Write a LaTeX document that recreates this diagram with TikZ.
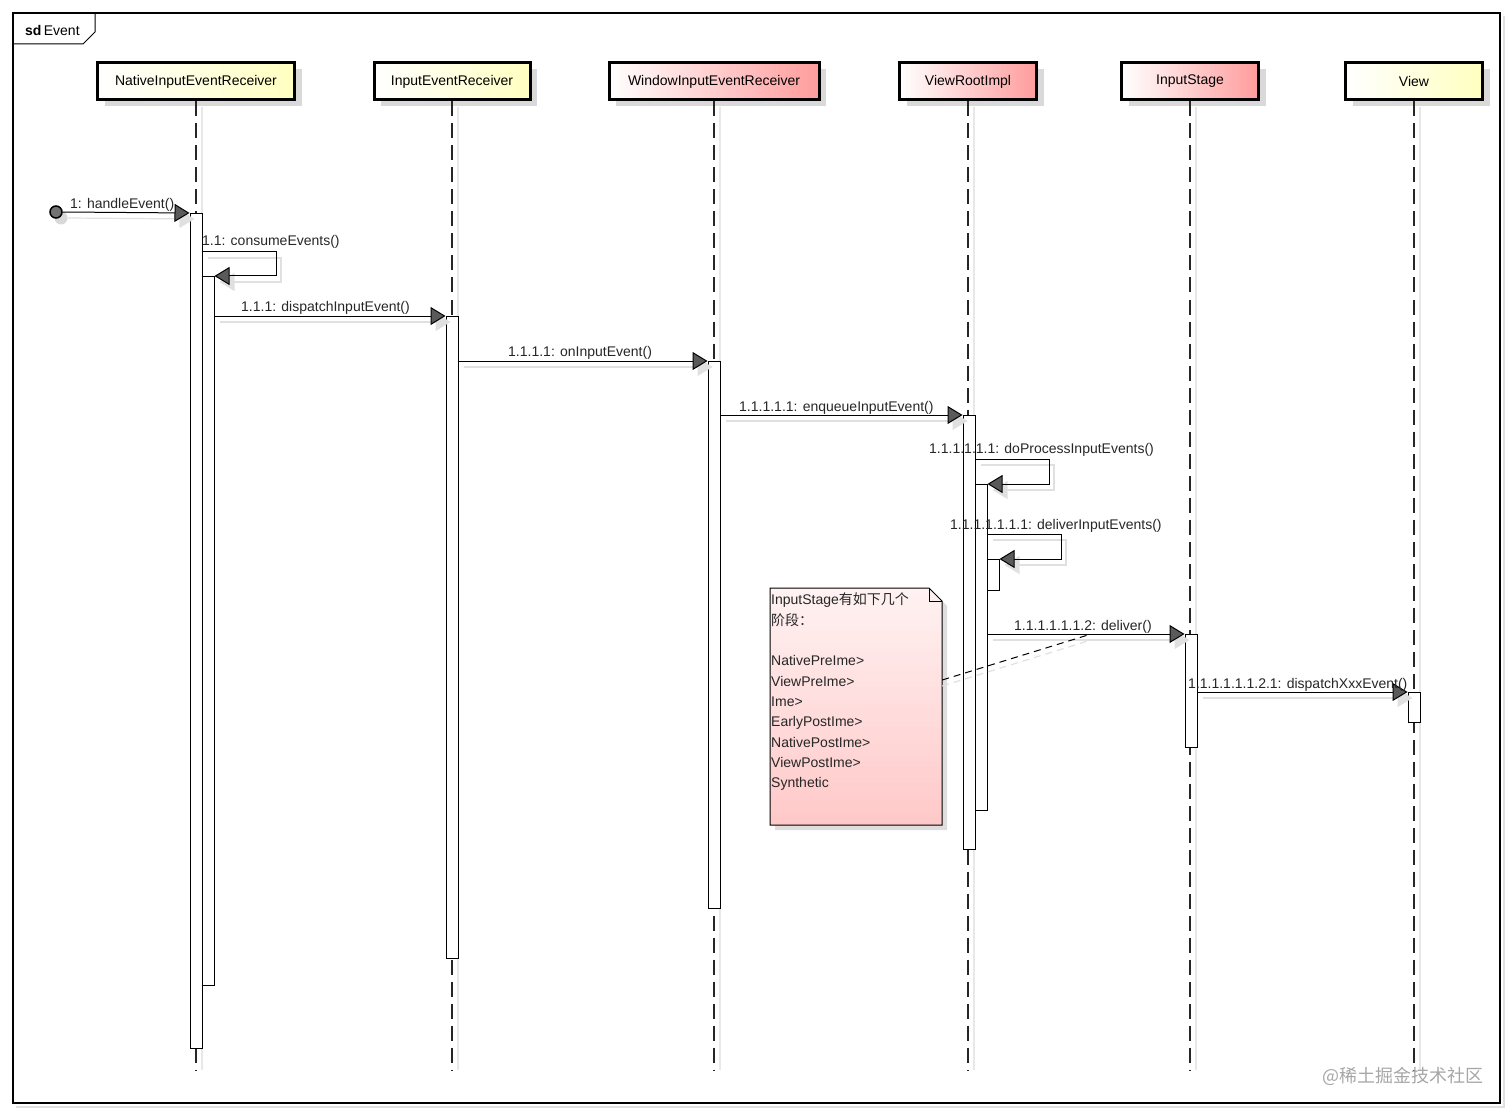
\documentclass[tikz,border=0pt]{standalone}
\usepackage{fontspec}
\setmainfont{Liberation Sans}
\newfontfamily\cjk{Noto Sans CJK SC}
\usetikzlibrary{arrows.meta,shadows}
\definecolor{yel}{HTML}{FFFFC0}
\definecolor{pnk}{HTML}{FF9C9C}
\definecolor{arrowgray}{HTML}{5A5A5A}
\definecolor{notetop}{HTML}{FFF2F2}
\definecolor{notebot}{HTML}{FFC8C8}
\begin{document}
\begin{tikzpicture}[x=1pt,y=-1pt,
  font=\fontsize{14}{16}\selectfont,
  head/.style={draw=black, line width=3pt, minimum height=37pt, inner sep=0pt,
    left color=white, drop shadow={shadow xshift=7pt,shadow yshift=-6pt,fill=black!15,opacity=1}},
  yhead/.style={head, right color=yel},
  phead/.style={head, right color=pnk},
  lifeline/.style={draw=black!85, line width=1.3pt, dash pattern=on 15pt off 7pt},
  lifeshadow/.style={draw=black!9, line width=1.6pt},
  actbar/.style={draw=black, line width=1pt, fill=white, minimum width=12pt, inner sep=0pt, anchor=north},
  msg/.style={draw=black, line width=1pt, -{Triangle[length=15pt,width=18pt,fill=arrowgray]}},
  msgshadow/.style={draw=black!12, line width=1.2pt, -{Triangle[length=15pt,width=18pt,fill=black!12]},
    transform canvas={xshift=5pt,yshift=-6pt}},
  lbl/.style={anchor=base west, inner sep=0pt, text=black!85},
  notelink/.style={draw=black, line width=1pt, dash pattern=on 7pt off 5pt}
]
\useasboundingbox (0,0) rectangle (1512,1115);
% frame
\draw[black!12, line width=2pt] (16,1107) -- (1504,1107) -- (1504,16);
\draw[line width=1.2pt] (13,13) rectangle (1500,1103);
\draw[line width=1pt] (13,44) -- (83,44) -- (95,32) -- (95,13);
\node[anchor=base west, inner sep=0pt] (sd) at (25,36) {\textbf{sd}\,Event};

% headers
\node[yhead, minimum width=197pt] (h1) at (196,81.5) {NativeInputEventReceiver};
\node[yhead, minimum width=156pt] (h2) at (452,81.5) {InputEventReceiver};
\node[phead, minimum width=210pt] (h3) at (714,81.5) {WindowInputEventReceiver};
\node[phead, minimum width=137pt] (h4) at (968,81.5) {ViewRootImpl};
\node[phead, minimum width=137pt] (h5) at (1190,81.5) {InputStage};
\node[yhead, minimum width=137pt] (h6) at (1414,81.5) {View};

% lifeline ends
\coordinate (e1) at (196,1070);
\coordinate (e2) at (452,1070);
\coordinate (e3) at (714,1070);
\coordinate (e4) at (968,1070);
\coordinate (e5) at (1190,1070);
\coordinate (e6) at (1414,1070);
\foreach \i in {1,...,6}{
  \draw[lifeshadow, transform canvas={xshift=6pt}] ([yshift=-6pt]h\i.south) -- (e\i);
  \draw[lifeline] (h\i.south) -- (e\i);
}

% activation bars
\node[actbar, minimum height=835pt] (nb1) at (196,213) {};
\node[actbar, minimum height=709pt] (nb2) at (208,276) {};
\node[actbar, minimum height=642pt] (ib) at (452,316) {};
\node[actbar, minimum height=547pt] (wb) at (714,361) {};
\node[actbar, minimum height=434pt] (vb1) at (969,415) {};
\node[actbar, minimum height=326pt] (vb2) at (981,484) {};
\node[actbar, minimum height=31pt] (vb3) at (993,559) {};
\node[actbar, minimum height=113pt] (sb) at (1191,634) {};
\node[actbar, minimum height=30pt] (wv) at (1414,692) {};

% start point
\fill[black!15] (61,218) circle (6.5);
\node[circle, draw=black, line width=1.5pt, fill=black!55, minimum size=12pt, inner sep=0pt] (start) at (56,212) {};

% self-message turning points
\coordinate (c11a) at (276,252);
\coordinate (c11b) at (276,276);
\coordinate (c6a) at (1049,459);
\coordinate (c6b) at (1049,484);
\coordinate (c7a) at (1061,534);
\coordinate (c7b) at (1061,559);

% message shadows
\draw[msgshadow] (start.east) -- (nb1.north west);
\draw[msgshadow] (nb1.east |- 0,252) -- (c11a) -- (c11b) -- (nb2.north east);
\draw[msgshadow] (nb2.east |- 0,316) -- (ib.north west);
\draw[msgshadow] (ib.east |- 0,361) -- (wb.north west);
\draw[msgshadow] (wb.east |- 0,415) -- (vb1.north west);
\draw[msgshadow] (vb1.east |- 0,459) -- (c6a) -- (c6b) -- (vb2.north east);
\draw[msgshadow] (vb2.east |- 0,534) -- (c7a) -- (c7b) -- (vb3.north east);
\draw[msgshadow] (vb2.east |- 0,634) -- (sb.north west);
\draw[msgshadow] (sb.east |- 0,692) -- (wv.north west);

% messages
\draw[msg] (start.east) -- (nb1.north west);
\draw[msg] (nb1.east |- 0,252) -- (c11a) -- (c11b) -- (nb2.north east);
\draw[msg] (nb2.east |- 0,316) -- (ib.north west);
\draw[msg] (ib.east |- 0,361) -- (wb.north west);
\draw[msg] (wb.east |- 0,415) -- (vb1.north west);
\draw[msg] (vb1.east |- 0,459) -- (c6a) -- (c6b) -- (vb2.north east);
\draw[msg] (vb2.east |- 0,534) -- (c7a) -- (c7b) -- (vb3.north east);
\draw[msg] (vb2.east |- 0,634) -- (sb.north west);
\draw[msg] (sb.east |- 0,692) -- (wv.north west);

% labels
\node[lbl] (l1) at (70,209) {1: handleEvent()};
\node[lbl] (l2) at (202,246) {1.1: consumeEvents()};
\node[lbl] (l3) at (241,311) {1.1.1: dispatchInputEvent()};
\node[lbl] (l4) at (508,356) {1.1.1.1: onInputEvent()};
\node[lbl] (l5) at (739,411) {1.1.1.1.1: enqueueInputEvent()};
\node[lbl] (l6) at (929,453) {1.1.1.1.1.1: doProcessInputEvents()};
\node[lbl] (l7) at (950,529) {1.1.1.1.1.1.1: deliverInputEvents()};
\node[lbl] (l8) at (1014,630) {1.1.1.1.1.1.2: deliver()};
\node[lbl] (l9) at (1188,688) {1.1.1.1.1.1.2.1: dispatchXxxEvent()};

% note
\fill[black!13] (775,593) -- (934,593) -- (947,606) -- (947,830) -- (775,830) -- cycle;
\draw[line width=1pt, top color=notetop, bottom color=notebot]
  (770,588) -- (929,588) -- (942,601) -- (942,825) -- (770,825) -- cycle;
\draw[line width=1pt] (929,588) -- (929,601) -- (942,601);
\node[inner sep=0pt, minimum width=172pt, minimum height=237pt] (note) at (856,706.5) {};
\node[anchor=north west, align=left, inner sep=0pt, text=black!85,
  font=\fontsize{14}{20.3}\selectfont] (notetext) at (771,593)
  {InputStage{\cjk 有如下几个}\\{\cjk 阶段：}\\[20.3pt]NativePreIme>\\ViewPreIme>\\Ime>\\EarlyPostIme>\\NativePostIme>\\ViewPostIme>\\Synthetic};
\coordinate (nc) at (1088,635);
\draw[draw=black!12, line width=1.2pt, dash pattern=on 7pt off 5pt, transform canvas={yshift=-6pt}] (note.east |- 0,680) -- (nc);
\draw[notelink] (note.east |- 0,680) -- (nc);

% watermark
\node[anchor=west, inner sep=0pt, text=black!35, font=\cjk\fontsize{18}{20}\selectfont] (wm) at (1322,1076) {@稀土掘金技术社区};
\end{tikzpicture}
\end{document}
